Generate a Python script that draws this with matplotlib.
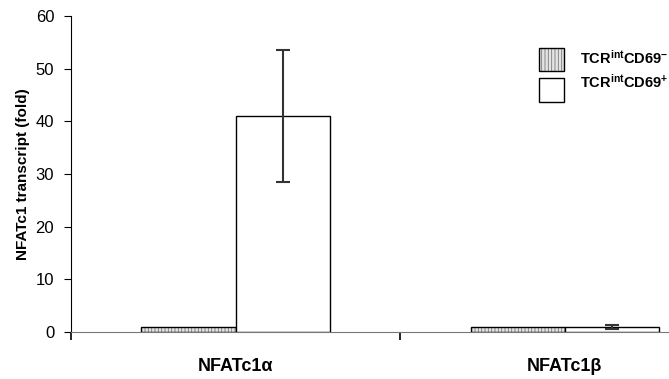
import matplotlib.pyplot as plt
import numpy as np
from matplotlib.patches import Rectangle

plt.rcParams['font.family'] = ['Liberation Sans', 'DejaVu Sans']
plt.rcParams['mathtext.fontset'] = 'custom'
plt.rcParams['mathtext.rm'] = 'Liberation Sans'
plt.rcParams['mathtext.bf'] = 'Liberation Sans:bold'
plt.rcParams['hatch.linewidth'] = 0.6

genes = ['NFATc1α', 'NFATc1β']
neg_vals = [1.0, 1.0]
pos_vals = [41.0, 1.0]
pos_err = [12.5, 0.35]
series = [r'$\mathbf{TCR^{int}CD69^{-}}$', r'$\mathbf{TCR^{int}CD69^{+}}$']

x = np.arange(len(genes))
w = 0.286

fig = plt.figure(figsize=(6.69, 3.79), dpi=100)
ax = fig.add_axes([0.106, 0.124, 0.894, 0.834])

ax.bar(x - w / 2, neg_vals, w, facecolor='#e4e4e4', edgecolor='#777777',
       hatch='|||||', linewidth=0)
ax.bar(x - w / 2, neg_vals, w, facecolor='none', edgecolor='black', linewidth=1)
ax.bar(x + w / 2, pos_vals, w, facecolor='white', edgecolor='black', linewidth=1,
       yerr=pos_err, error_kw=dict(ecolor='#333333', elinewidth=1.5, capsize=5, capthick=1.5))

ax.set_xlim(-0.5, 1.316)
ax.set_ylim(0, 60)
ax.set_yticks(range(0, 61, 10))
ax.set_xticks([-0.5, 0.5])
ax.set_xticklabels([])
for xi, g in zip(x, genes):
    ax.text(xi, -6.6, g, ha='center', va='center', fontsize=13, fontweight='bold')

ax.spines['top'].set_visible(False)
ax.spines['right'].set_visible(False)
ax.spines['bottom'].set_color('#777777')
ax.tick_params(axis='y', direction='out', length=5, labelsize=12, width=0.8, pad=7)
ax.tick_params(axis='x', direction='out', length=6, width=1.2)
ax.set_ylabel('NFATc1 transcript (fold)', fontsize=11, fontweight='bold')
ax.yaxis.set_label_coords(-0.069, 0.5)

# legend drawn by hand in figure coords
lx0, lx1 = 539 / 669, 564 / 669
boxes = [(48, 71), (78, 102)]
text_y = [58, 82]
for i, ((top, bot), lab, ty) in enumerate(zip(boxes, series, text_y)):
    y0 = 1 - bot / 379
    h = (bot - top) / 379
    if i == 0:
        fig.patches.append(Rectangle((lx0, y0), lx1 - lx0, h, transform=fig.transFigure,
                                     facecolor='#e4e4e4', edgecolor='#777777', hatch='|||||', linewidth=0))
    fig.patches.append(Rectangle((lx0, y0), lx1 - lx0, h, transform=fig.transFigure,
                                 facecolor='none' if i == 0 else 'white', edgecolor='black', linewidth=1))
    fig.text(580 / 669, 1 - ty / 379, lab, fontsize=10.5, va='center', ha='left')

fig.savefig('out.png', dpi=100)
